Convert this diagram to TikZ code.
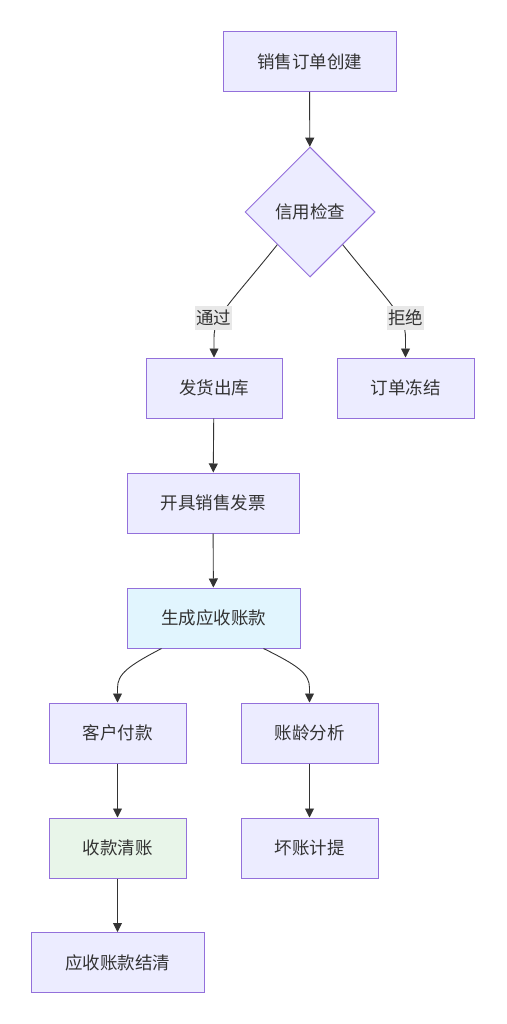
\documentclass[tikz,border=0pt]{standalone}
\usepackage{fontspec}
\setmainfont{Noto Sans CJK SC}
\usetikzlibrary{shapes.geometric,arrows.meta,calc}
\definecolor{boxfill}{HTML}{ECECFF}
\definecolor{boxline}{HTML}{9370DB}
\definecolor{txt}{HTML}{333333}
\definecolor{bluefill}{HTML}{E1F5FE}
\definecolor{greenfill}{HTML}{E8F5E9}
\definecolor{lblfill}{HTML}{E8E8E8}
\begin{document}
\begin{tikzpicture}[x=1pt,y=-1pt,
  every node/.style={font=\fontsize{17.5}{20}\selectfont, text=txt},
  box/.style={draw=boxline, fill=boxfill, line width=1pt, minimum height=60pt, inner sep=0pt},
  decision/.style={draw=boxline, fill=boxfill, line width=1pt, diamond, aspect=1, minimum width=130pt, minimum height=130pt, inner sep=0pt},
  conn/.style={draw=txt, line width=0.9pt, -{Triangle[length=9pt,width=9pt]}},
  lbl/.style={fill=lblfill, inner xsep=1pt, inner ysep=4pt}]
\useasboundingbox (0,0) rectangle (506,1024);
\fill[white] (0,0) rectangle (506,1024);
\node[box, minimum width=173pt] (a) at (309.5,61.5) {销售订单创建};
\node[decision] (cr) at (310,212) {信用检查};
\node[box, minimum width=136pt] (fa) at (214,388) {发货出库};
\node[box, minimum width=137pt] (dj) at (405.5,388) {订单冻结};
\node[box, minimum width=172pt] (fp) at (213,503) {开具销售发票};
\node[box, minimum width=173pt, fill=bluefill] (gen) at (213.5,618) {生成应收账款};
\node[box, minimum width=137pt] (fk) at (117.5,733) {客户付款};
\node[box, minimum width=137pt] (zl) at (309.5,733) {账龄分析};
\node[box, minimum width=137pt, fill=greenfill] (qz) at (117.5,848) {收款清账};
\node[box, minimum width=137pt] (hz) at (309.5,848) {坏账计提};
\node[box, minimum width=173pt] (jq) at (117.5,962.5) {应收账款结清};

\draw[conn] (a) -- (cr);
\draw[conn] (cr.south west) .. controls (229,305) and (214,316) .. (214,338) -- (fa.north);
\draw[conn] (cr.south east) .. controls (391,305) and (405.5,316) .. (405.5,338) -- (dj.north);
\node[lbl] (l1) at (213.5,318) {通过};
\node[lbl] (l2) at (405.5,318) {拒绝};
\draw[conn] (fa) -- (fp);
\draw[conn] (fp) -- (gen);
\coordinate (g1) at ($(gen.south)+(-52,0)$);
\coordinate (g2) at ($(gen.south)+(50,0)$);
\draw[conn] (g1) .. controls (128,666) and (117.5,674) .. (117.5,688) -- (fk.north);
\draw[conn] (g2) .. controls (299,666) and (309.5,674) .. (309.5,688) -- (zl.north);
\draw[conn] (fk) -- (qz);
\draw[conn] (qz) -- (jq);
\draw[conn] (zl) -- (hz);
\end{tikzpicture}
\end{document}
